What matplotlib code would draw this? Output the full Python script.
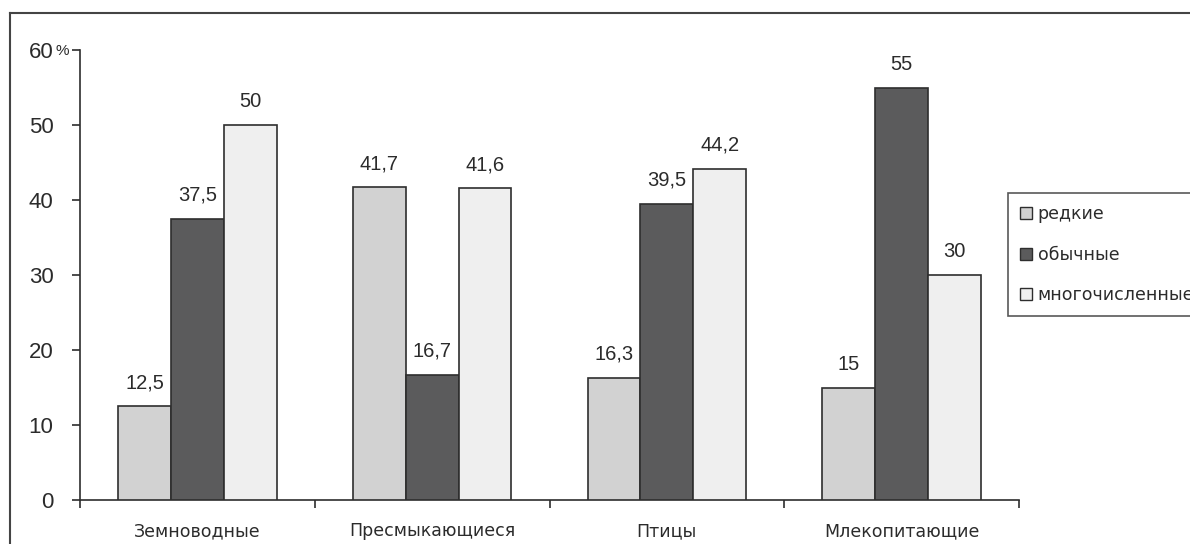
import matplotlib
matplotlib.use("Agg")
import matplotlib.pyplot as plt
import numpy as np
from matplotlib.patches import Rectangle
from matplotlib.lines import Line2D
from matplotlib.transforms import blended_transform_factory

plt.rcParams["font.family"] = ["Liberation Sans", "DejaVu Sans"]

# Data
categories = ["Земноводные", "Пресмыкающиеся", "Птицы", "Млекопитающие"]
series_names = ["редкие", "обычные", "многочисленные"]
rare = [12.5, 41.7, 16.3, 15]
common = [37.5, 16.7, 39.5, 55]
numerous = [50, 41.6, 44.2, 30]
y_ticks = [0, 10, 20, 30, 40, 50, 60]

series = [rare, common, numerous]
colors = ["#d2d2d2", "#5b5b5c", "#efefef"]
edge = "#2e2e2e"
text_color = "#2b2b2b"
wide_font = ["DejaVu Sans"]

W, H = 1190, 544
fig = plt.figure(figsize=(W / 100, H / 100), dpi=100)
ax = fig.add_axes([80 / W, 44 / H, (1019 - 80) / W, 450 / H])

x = np.arange(len(categories))
bar_w = 0.225
offsets = [-bar_w, 0, bar_w]


def fmt(v):
    if float(v).is_integer():
        return str(int(v))
    return f"{v:.1f}".replace(".", ",")


for vals, off, col, name in zip(series, offsets, colors, series_names):
    bars = ax.bar(x + off, vals, width=bar_w, color=col, edgecolor=edge,
                  linewidth=1.2, label=name, zorder=3)
    for b, v in zip(bars, vals):
        ax.annotate(fmt(v), (b.get_x() + b.get_width() / 2, v),
                    xytext=(0, 10), textcoords="offset points",
                    ha="center", va="bottom", fontsize=14.5, color=text_color)

ax.set_xlim(-0.5, len(categories) - 0.5)
ax.set_ylim(0, 60)

for side in ("top", "right"):
    ax.spines[side].set_visible(False)
for side in ("left", "bottom"):
    ax.spines[side].set_color(edge)
    ax.spines[side].set_linewidth(1.2)

# y axis: numbers, with a small percent sign beside the top value
ax.set_yticks(y_ticks)
ax.set_yticklabels([str(t) for t in y_ticks])
ax.tick_params(axis="y", direction="out", length=6, width=1.2, color=edge,
               pad=13, labelsize=16, labelcolor=text_color)
trans = blended_transform_factory(ax.transAxes, ax.transData)
ax.annotate("%", (0, 60), xycoords=trans, xytext=(-18, -1),
            textcoords="offset points", ha="left", va="center",
            fontsize=11, color=text_color)

# x axis: category names centred, tick marks between groups
ax.set_xticks(x)
ax.set_xticklabels(categories, family=wide_font)
ax.tick_params(axis="x", which="major", length=0, pad=16, labelsize=12.5,
               labelcolor=text_color)
ax.set_xticks(np.arange(-0.5, len(categories)), minor=True)
ax.tick_params(axis="x", which="minor", direction="out", length=6, width=1.2,
               color=edge)

# legend, partly running past the right edge
handles = [Rectangle((0, 0), 1, 1, facecolor=c, edgecolor=edge, linewidth=1)
           for c in colors]
leg = fig.legend(handles, series_names, loc="upper left",
                 bbox_to_anchor=(1008 / W, 1 - 193 / H),
                 prop={"family": wide_font, "size": 12.5},
                 frameon=True, fancybox=False, shadow=False,
                 handlelength=0.7, handleheight=0.7, handletextpad=0.3,
                 labelspacing=1.3, borderpad=0.7, borderaxespad=0)
leg.get_frame().set_edgecolor(edge)
leg.get_frame().set_linewidth(1.2)
for t in leg.get_texts():
    t.set_color(text_color)

# surrounding frame
fig.add_artist(Line2D([10 / W, 10 / W], [0, 1 - 13 / H],
                      transform=fig.transFigure, color="#444444", lw=1.5))
fig.add_artist(Line2D([10 / W, 1], [1 - 13 / H, 1 - 13 / H],
                      transform=fig.transFigure, color="#444444", lw=1.5))

fig.savefig("out.png", dpi=100, facecolor="white")
